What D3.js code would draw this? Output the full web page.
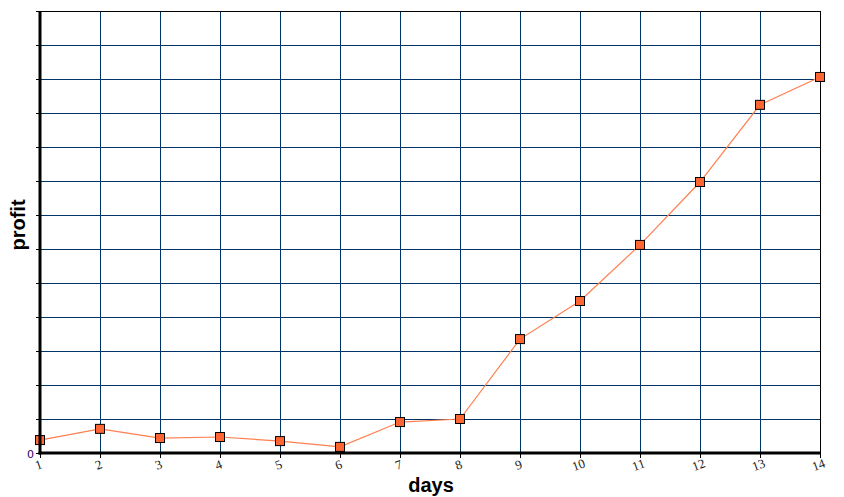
<!DOCTYPE html>
<html>
<head>
<meta charset="utf-8">
<script src="https://cdn.jsdelivr.net/npm/d3@7"></script>
<style>
body { margin: 0; background: #fff; }
svg { display: block; }
</style>
</head>
<body>
<svg width="844" height="497"></svg>
<script>
var days = [1, 2, 3, 4, 5, 6, 7, 8, 9, 10, 11, 12, 13, 14];
var profit = [38, 71, 44, 47, 35, 18, 91, 100, 335, 447, 612, 797, 1024, 1106];
var yTicks = d3.range(0, 1301, 100);

var svg = d3.select("svg"),
    margin = {left: 40, right: 24, top: 11, bottom: 44},
    width = 844 - margin.left - margin.right,
    height = 497 - margin.top - margin.bottom;

var g = svg.append("g").attr("transform", "translate(" + margin.left + "," + margin.top + ")");

var x = d3.scaleLinear().domain([1, 14]).range([0, width]);
var y = d3.scaleLinear().domain([0, 1300]).range([height, 0]);

// grid
g.append("g").selectAll("line").data(yTicks.slice(1, -1)).enter().append("line")
    .attr("x1", 0).attr("x2", width)
    .attr("y1", function(d) { return y(d); }).attr("y2", function(d) { return y(d); })
    .attr("stroke", "#003366").attr("stroke-width", 1).attr("shape-rendering", "crispEdges");
g.append("g").selectAll("line").data(days.slice(1, -1)).enter().append("line")
    .attr("y1", 0).attr("y2", height)
    .attr("x1", function(d) { return x(d); }).attr("x2", function(d) { return x(d); })
    .attr("stroke", "#003366").attr("stroke-width", 1).attr("shape-rendering", "crispEdges");

// top and right border
g.append("line").attr("x1", 0).attr("x2", width).attr("y1", 0).attr("y2", 0)
    .attr("stroke", "#000").attr("shape-rendering", "crispEdges");
g.append("line").attr("x1", width).attr("x2", width).attr("y1", 0).attr("y2", height)
    .attr("stroke", "#000").attr("shape-rendering", "crispEdges");

// y axis ticks (no labels except 0)
g.append("g").selectAll("line").data(yTicks).enter().append("line")
    .attr("x1", -4).attr("x2", 0)
    .attr("y1", function(d) { return y(d); }).attr("y2", function(d) { return y(d); })
    .attr("stroke", "#000").attr("shape-rendering", "crispEdges");
g.append("text").attr("x", -6).attr("y", y(0) + 5)
    .attr("text-anchor", "end").attr("fill", "#330066")
    .style("font-family", "DejaVu Sans").style("font-size", "11px").text("0");

// x tick labels
g.append("g").selectAll("text").data(days).enter().append("text")
    .attr("transform", function(d) { return "translate(" + x(d) + "," + (height + 16) + ") rotate(-20)"; })
    .attr("text-anchor", "middle")
    .attr("fill", "#222")
    .style("font-family", "Liberation Serif").style("font-size", "13px")
    .text(function(d) { return d; });

// series line
var line = d3.line()
    .x(function(d, i) { return x(days[i]); })
    .y(function(d) { return y(d); });
g.append("path").datum(profit)
    .attr("d", line).attr("fill", "none")
    .attr("stroke", "#ff7f50").attr("stroke-width", 1.2);

g.append("g").selectAll("rect").data(profit).enter().append("rect")
    .attr("x", function(d, i) { return x(days[i]) - 4.5; })
    .attr("y", function(d) { return y(d) - 4.5; })
    .attr("width", 9).attr("height", 9)
    .attr("fill", "#ff6633").attr("stroke", "#000").attr("stroke-width", 1);

// axes lines
g.append("line").attr("x1", 0).attr("x2", 0).attr("y1", 0).attr("y2", height + 1.5)
    .attr("stroke", "#000").attr("stroke-width", 3);
g.append("line").attr("x1", -1.5).attr("x2", width + 1).attr("y1", height).attr("y2", height)
    .attr("stroke", "#000").attr("stroke-width", 3);
g.append("g").selectAll("line").data(days).enter().append("line")
    .attr("x1", function(d) { return x(d); }).attr("x2", function(d) { return x(d); })
    .attr("y1", height).attr("y2", height + 5)
    .attr("stroke", "#000").attr("shape-rendering", "crispEdges");

// axis titles
svg.append("text").attr("x", 431).attr("y", 492).attr("text-anchor", "middle")
    .style("font-family", "Liberation Sans").style("font-weight", "bold").style("font-size", "20px")
    .text("days");
svg.append("text").attr("transform", "translate(25,225) rotate(-90)").attr("text-anchor", "middle")
    .style("font-family", "Liberation Sans").style("font-weight", "bold").style("font-size", "20px")
    .text("profit");
</script>
</body>
</html>
